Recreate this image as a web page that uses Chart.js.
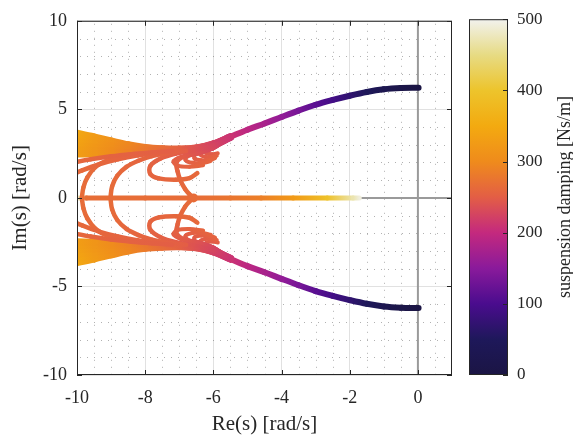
<!DOCTYPE html>
<html lang="en">
<head>
  <meta charset="UTF-8" />
  <title>Root locus vs suspension damping</title>
  <script src="https://cdn.jsdelivr.net/npm/chart.js@4.4.0/dist/chart.umd.min.js"></script>
  <style>
body { margin: 0; background: #fff; }
#wrap { position: relative; width: 573px; height: 437px; }
#locus { position: absolute; left: 0; top: 0; }
#cbar { position: absolute; left: 440px; top: 0; }
  </style>
</head>
<body>
  <div id="wrap">
    <canvas id="locus" width="460" height="437"></canvas>
    <canvas id="cbar" width="133" height="437"></canvas>
  </div>

  <script>
    // ---- data: upper half of each locus as [Re, Im, damping]; lower half is the conjugate
    const mainBranch = [[0.02,6.22,0],[-0.5,6.2,12],[-1.0,6.13,28],[-1.5,5.98,48],[-2.0,5.77,70],[-2.5,5.53,92],
      [-3.0,5.26,112],[-3.5,4.93,135],[-4.0,4.57,157],[-4.5,4.2,176],[-5.0,3.85,193],[-5.5,3.45,210]];

    const fan1 = [[-5.5,3.45,210],[-6.0,3.05,225],[-6.5,2.82,240],[-7.0,2.76,255],[-7.5,2.78,268],[-8.0,2.85,282],[-8.5,3.0,296],[-9.0,3.22,310],[-9.5,3.45,326],[-10.1,3.7,352]];
    const fan2 = [[-5.5,3.45,210],[-6.0,3.04,225],[-6.5,2.8,240],[-7.0,2.74,255],[-7.5,2.75,268],[-8.0,2.8,282],[-8.5,2.91,295],[-9.0,3.08,309],[-9.5,3.26,324],[-10.1,3.45,348]];
    const fan3 = [[-5.5,3.44,210],[-6.0,3.02,224],[-6.5,2.79,239],[-7.0,2.72,254],[-7.5,2.72,267],[-8.0,2.75,281],[-8.5,2.82,294],[-9.0,2.94,307],[-9.5,3.07,322],[-10.1,3.21,344]];
    const fan4 = [[-5.5,3.43,210],[-6.0,3.01,224],[-6.5,2.77,239],[-7.0,2.7,254],[-7.5,2.69,266],[-8.0,2.7,280],[-8.5,2.74,293],[-9.0,2.8,306],[-9.5,2.88,320],[-10.1,2.96,340]];
    const fan5 = [[-5.5,3.42,210],[-6.0,2.99,223],[-6.5,2.76,238],[-7.0,2.68,253],[-7.5,2.66,265],[-8.0,2.65,279],[-8.5,2.65,292],[-9.0,2.67,304],[-9.5,2.69,318],[-10.1,2.72,336]];
    const fan6 = [[-5.5,3.41,210],[-6.0,2.98,223],[-6.5,2.74,238],[-7.0,2.66,252],[-7.5,2.63,264],[-8.0,2.6,278],[-8.5,2.56,290],[-9.0,2.53,302],[-9.5,2.5,316],[-10.1,2.47,332]];

    const hookA = [[-5.5,3.4,210],[-6.0,2.95,226],[-6.6,2.66,240],[-7.1,2.5,248],[-7.55,2.22,252],[-7.85,1.8,255],[-7.85,1.35,257],[-7.6,1.1,258],[-7.1,1.03,260],[-6.7,1.12,261],[-6.47,1.4,262]];
    const hookB = [[-5.5,3.38,210],[-5.95,2.9,226],[-6.4,2.6,238],[-6.85,2.35,247],[-7.08,2.0,252],[-7.05,1.5,256],[-6.97,1.0,259],[-6.83,0.5,262],[-6.7,0.2,264],[-6.58,0,266]];
    const hookC = [[-5.6,3.3,214],[-6.0,2.82,228],[-6.5,2.5,240],[-6.95,2.32,247],[-7.17,2.06,251],[-7.05,1.82,253],[-6.7,1.76,255],[-6.3,1.84,257]];
    const hookD = [[-5.65,3.25,216],[-6.0,2.8,229],[-6.45,2.5,241],[-6.75,2.36,247],[-6.82,2.15,250],[-6.62,1.98,253],[-6.3,1.98,255],[-6.08,2.08,257]];
    const hookE = [[-5.7,3.2,218],[-6.0,2.8,230],[-6.35,2.58,241],[-6.55,2.42,246],[-6.55,2.22,249],[-6.35,2.12,252],[-6.1,2.14,254],[-5.95,2.24,256]];
    const hookF = [[-5.75,3.15,220],[-6.05,2.78,232],[-6.3,2.62,241],[-6.38,2.46,246],[-6.25,2.32,249],[-6.05,2.3,252],[-5.9,2.38,254]];
    const hookG = [[-5.8,3.1,222],[-6.08,2.78,234],[-6.22,2.66,241],[-6.2,2.52,245],[-6.03,2.46,248],[-5.87,2.52,251]];

    const arcOuter = [[-7.2,2.62,252],[-7.8,2.55,255],[-8.5,2.42,258],[-9.1,2.14,261],[-9.46,1.74,263],[-9.7,1.15,264],[-9.81,0.6,265],[-9.86,0,266]];
    const arcInner = [[-6.8,2.65,250],[-7.3,2.55,253],[-7.8,2.36,256],[-8.2,2.1,258],[-8.55,1.75,260],[-8.82,1.25,262],[-8.97,0.65,264],[-9.02,0,266]];
    const edgeUpper = [[-10.3,1.92,262],[-9.6,2.18,259],[-9.0,2.35,256],[-8.4,2.47,254],[-7.8,2.56,252],[-7.2,2.64,250]];
    const edgeLower = [[-10.3,1.18,264],[-9.85,1.55,262],[-9.35,1.9,260],[-8.8,2.18,257],[-8.2,2.4,255],[-7.6,2.56,252]];

    // real-axis poles after the break-in point
    const realLeft = [[-10.3,0,495],[-9.85,0,470],[-9.72,0,268],[-8.0,0,267],[-6.58,0,266]];
    const realRight = [[-6.58,0,266],[-5.5,0,276],[-4.6,0,287],[-3.66,0,322],[-2.66,0,395],[-1.9,0,470],[-1.72,0,492]];
    const breakIn = [[-6.58,0,266]];

    // axes
    const xTickValues = [-10,-8,-6,-4,-2,0];
    const yTickValues = [-10,-5,0,5,10];
    const xMinorValues = [-9.5,-9,-8.5,-7.5,-7,-6.5,-5.5,-5,-4.5,-3.5,-3,-2.5,-1.5,-1,-0.5,0.5];
    const yMinorValues = [-9,-8,-7,-6,-4,-3,-2,-1,1,2,3,4,6,7,8,9];
    const cTickValues = [0,100,200,300,400,500];

    // colormap of the damping colorbar
    const cmapStops = [[0,'#1b1544'],[50,'#1e185a'],[100,'#4a0c8e'],[150,'#8a1a9b'],[200,'#c4297e'],[250,'#e35e45'],
      [300,'#ef8b1c'],[350,'#f3aa10'],[400,'#edc42c'],[450,'#e7db84'],[500,'#f2f2ee']];

    const FONT = "'Liberation Serif', 'Times New Roman', serif";
    const INK = '#262626';

    function hexRgb(h) { return [1,3,5].map(i => parseInt(h.slice(i, i + 2), 16)); }
    function colorAt(c) {
      c = Math.max(0, Math.min(500, c));
      for (let i = 0; i < cmapStops.length - 1; i++) {
        const [c0, h0] = cmapStops[i], [c1, h1] = cmapStops[i + 1];
        if (c <= c1) {
          const t = (c - c0) / (c1 - c0), a = hexRgb(h0), b = hexRgb(h1);
          return 'rgb(' + a.map((v, k) => Math.round(v + (b[k] - v) * t)).join(',') + ')';
        }
      }
      return cmapStops[cmapStops.length - 1][1];
    }

    // gradient along each segment, from the damping at p0 to the damping at p1
    function segGradient(ctx) {
      const ds = ctx.chart.data.datasets[ctx.datasetIndex];
      const { p0, p1 } = ctx;
      if (![p0.x, p0.y, p1.x, p1.y].every(Number.isFinite)) return colorAt(ds.data[ctx.p0DataIndex].c);
      const g = ctx.chart.ctx.createLinearGradient(p0.x, p0.y, p1.x, p1.y);
      g.addColorStop(0, colorAt(ds.data[ctx.p0DataIndex].c));
      g.addColorStop(1, colorAt(ds.data[ctx.p1DataIndex].c));
      return g;
    }

    function lineSet(curve, sign, width) {
      return {
        data: curve.map(([re, im, c]) => ({ x: re, y: sign * im, c })),
        pointRadius: 0, borderWidth: width, borderColor: colorAt(curve[0][2]),
        borderCapStyle: 'round', borderJoinStyle: 'round', tension: 0.35,
        // dash offset only keeps every segment a separate style so each gets its own gradient
        segment: { borderColor: segGradient, borderDashOffset: ctx => ctx.p0DataIndex }
      };
    }

    const datasets = [];
    const loci = [
      [edgeUpper,4.5],[edgeLower,4.5],[arcOuter,4.5],[arcInner,4.5],
      [hookA,4.5],[hookB,4.5],[hookC,4],[hookD,4],[hookE,4],[hookF,4],[hookG,4],
      [fan6,7],[fan5,7],[fan4,7],[fan3,7],[fan2,7],[fan1,7],[mainBranch,6]
    ];
    loci.forEach(([curve, w]) => { datasets.push(lineSet(curve, 1, w)); datasets.push(lineSet(curve, -1, w)); });
    datasets.push(lineSet(realLeft, 1, 5));
    datasets.push(lineSet(realRight, 1, 5));
    datasets.push({
      data: breakIn.map(([re, im, c]) => ({ x: re, y: im, c })),
      showLine: false, pointRadius: 4.5, pointBorderWidth: 0,
      pointBackgroundColor: colorAt(breakIn[0][2])
    });

    // minor dotted grid, zero lines, box and inward ticks
    const axesFrame = {
      id: 'axesFrame',
      beforeDatasetsDraw(chart) {
        const { ctx, chartArea: a, scales: { x, y } } = chart;
        ctx.save();
        ctx.lineWidth = 1;
        ctx.strokeStyle = 'rgba(100,100,100,0.5)';
        ctx.setLineDash([1, 6]);
        xMinorValues.forEach(v => {
          const px = Math.round(x.getPixelForValue(v)) + 0.5;
          ctx.beginPath(); ctx.moveTo(px, a.top + 3); ctx.lineTo(px, a.bottom); ctx.stroke();
        });
        yMinorValues.forEach(v => {
          const py = Math.round(y.getPixelForValue(v)) + 0.5;
          ctx.beginPath(); ctx.moveTo(a.left + 3, py); ctx.lineTo(a.right, py); ctx.stroke();
        });
        ctx.setLineDash([]);
        ctx.strokeStyle = '#9a9a9a';
        ctx.lineWidth = 2;
        const x0 = x.getPixelForValue(0), y0 = y.getPixelForValue(0);
        ctx.beginPath(); ctx.moveTo(x0, a.top); ctx.lineTo(x0, a.bottom); ctx.stroke();
        ctx.beginPath(); ctx.moveTo(a.left, y0); ctx.lineTo(a.right, y0); ctx.stroke();
        ctx.restore();
      },
      afterDraw(chart) {
        const { ctx, chartArea: a, scales: { x, y } } = chart;
        ctx.save();
        ctx.strokeStyle = INK;
        ctx.lineWidth = 1;
        ctx.strokeRect(a.left + 0.5, a.top + 0.5, a.width - 1, a.height - 1);
        ctx.beginPath();
        xTickValues.forEach(v => {
          const px = Math.round(x.getPixelForValue(v)) + 0.5;
          ctx.moveTo(px, a.bottom); ctx.lineTo(px, a.bottom - 5);
          ctx.moveTo(px, a.top); ctx.lineTo(px, a.top + 5);
        });
        yTickValues.forEach(v => {
          const py = Math.round(y.getPixelForValue(v)) + 0.5;
          ctx.moveTo(a.left, py); ctx.lineTo(a.left + 5, py);
          ctx.moveTo(a.right, py); ctx.lineTo(a.right - 5, py);
        });
        ctx.stroke();
        ctx.restore();
      }
    };

    Chart.defaults.font.family = FONT;
    Chart.defaults.color = INK;

    new Chart(document.getElementById('locus'), {
      type: 'line',
      data: { datasets },
      options: {
        responsive: false, animation: false, events: [],
        layout: { padding: { left: 0, right: 8, top: 15, bottom: 0 } },
        plugins: { legend: { display: false }, tooltip: { enabled: false } },
        scales: {
          x: {
            type: 'linear', min: -10, max: 1,
            afterBuildTicks: s => { s.ticks = xTickValues.map(v => ({ value: v })); },
            afterFit: s => { s.height = 62; },
            ticks: { padding: 12, color: INK, font: { size: 18 } },
            grid: { color: '#e1e1e1', drawTicks: false },
            border: { display: false },
            title: { display: true, text: 'Re(s) [rad/s]', color: INK, font: { size: 21 }, padding: { top: 0, bottom: 0 } }
          },
          y: {
            type: 'linear', min: -10, max: 10,
            afterBuildTicks: s => { s.ticks = yTickValues.map(v => ({ value: v })); },
            afterFit: s => { s.width = 77; },
            ticks: { padding: 10, color: INK, font: { size: 18 } },
            grid: { color: '#e1e1e1', drawTicks: false },
            border: { display: false },
            title: { display: true, text: 'Im(s) [rad/s]', color: INK, font: { size: 21 }, padding: { top: 8, bottom: 0 } }
          }
        }
      },
      plugins: [axesFrame]
    });

    // ---- colorbar
    const cbarFrame = {
      id: 'cbarFrame',
      afterDraw(chart) {
        const { ctx, chartArea: a, scales: { y } } = chart;
        ctx.save();
        ctx.strokeStyle = INK;
        ctx.lineWidth = 1;
        ctx.strokeRect(a.left + 0.5, a.top + 0.5, a.width - 1, a.height - 1);
        ctx.beginPath();
        cTickValues.forEach(v => {
          const py = Math.round(y.getPixelForValue(v)) + 0.5;
          ctx.moveTo(a.right, py); ctx.lineTo(a.right - 5, py);
        });
        ctx.stroke();
        ctx.translate(125, (a.top + a.bottom) / 2);
        ctx.rotate(-Math.PI / 2);
        ctx.font = '18px ' + FONT;
        ctx.fillStyle = INK;
        ctx.textAlign = 'center';
        ctx.textBaseline = 'middle';
        ctx.fillText('suspension damping [Ns/m]', 0, 0);
        ctx.restore();
      }
    };

    new Chart(document.getElementById('cbar'), {
      type: 'bar',
      data: {
        labels: [''],
        datasets: [{
          data: [cTickValues[cTickValues.length - 1]],
          barPercentage: 1, categoryPercentage: 1, borderWidth: 0,
          backgroundColor: ctx => {
            const area = ctx.chart.chartArea;
            if (!area || !Number.isFinite(area.top)) return cmapStops[0][1];
            const g = ctx.chart.ctx.createLinearGradient(0, area.bottom, 0, area.top);
            cmapStops.forEach(([c, col]) => g.addColorStop(c / 500, col));
            return g;
          }
        }]
      },
      options: {
        responsive: false, animation: false, events: [],
        layout: { padding: { left: 29, right: 0, top: 15, bottom: 62 } },
        plugins: { legend: { display: false }, tooltip: { enabled: false } },
        scales: {
          x: { display: false },
          y: {
            position: 'right', min: 0, max: 500,
            afterBuildTicks: s => { s.ticks = cTickValues.map(v => ({ value: v })); },
            afterFit: s => { s.width = 65; },
            ticks: { padding: 9, color: INK, font: { size: 17 } },
            grid: { display: false, drawTicks: false },
            border: { display: false }
          }
        }
      },
      plugins: [cbarFrame]
    });
  </script>
</body>
</html>
